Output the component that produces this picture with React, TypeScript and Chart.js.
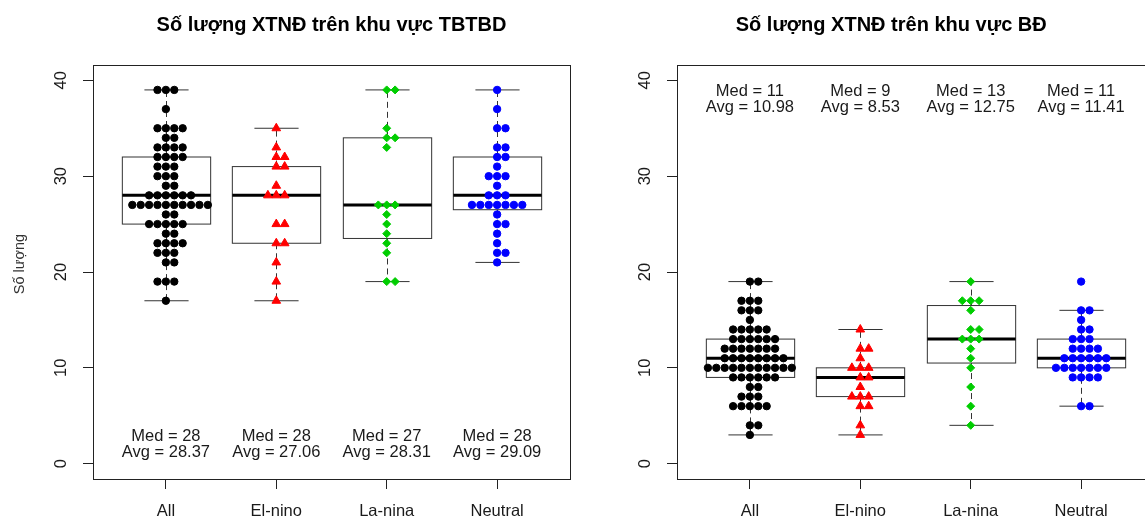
import React, { useEffect, useRef } from "react";
import { Chart, registerables } from "chart.js";

Chart.register(...registerables);

// ---------- data ----------
const categories = ["All", "El-nino", "La-nina", "Neutral"];
const yTickValues = [0, 10, 20, 30, 40];

// Panel 1: TBTBD (observations per group)
const tbtbdElnino = [35, 33, 32, 32, 31, 31, 29, 28, 28, 28, 25, 25, 23, 23, 21, 19, 17];
const tbtbdLanina = [39, 39, 35, 34, 34, 33, 27, 27, 27, 26, 25, 24, 23, 22, 19, 19];
const tbtbdNeutral = [44, 39, 37, 35, 35, 33, 33, 32, 32, 31, 30, 30, 30, 29, 28, 28, 28, 27, 27, 27, 27, 27, 27, 27, 26, 25, 25, 24, 23, 22, 22, 21];
const tbtbdAll = [...tbtbdElnino, ...tbtbdLanina, ...tbtbdNeutral];

const tbtbdWhiskerLow = [17, 17, 19, 21];
const tbtbdQ1 = [25, 23, 23.5, 26.5];
const tbtbdMedian = [28, 28, 27, 28];
const tbtbdQ3 = [32, 31, 34, 32];
const tbtbdWhiskerHigh = [39, 35, 39, 39];
const tbtbdMedText = ["Med = 28", "Med = 28", "Med = 27", "Med = 28"];
const tbtbdAvgText = ["Avg = 28.37", "Avg = 27.06", "Avg = 28.31", "Avg = 29.09"];

// Panel 2: BĐ
const bdElnino = [14, 12, 12, 11, 10, 10, 10, 9, 9, 8, 7, 7, 7, 6, 6, 4, 3];
const bdLanina = [19, 17, 17, 17, 16, 14, 14, 13, 13, 13, 12, 11, 10, 8, 6, 4];
const bdNeutral = [19, 16, 16, 15, 14, 14, 13, 13, 13, 12, 12, 12, 12, 11, 11, 11, 11, 11, 11, 10, 10, 10, 10, 10, 10, 10, 9, 9, 9, 9, 6, 6];
const bdAll = [...bdElnino, ...bdLanina, ...bdNeutral];

const bdWhiskerLow = [3, 3, 4, 6];
const bdQ1 = [9, 7, 10.5, 10];
const bdMedian = [11, 9, 13, 11];
const bdQ3 = [13, 10, 16.5, 13];
const bdWhiskerHigh = [19, 14, 19, 16];
const bdMedText = ["Med = 11", "Med = 9", "Med = 13", "Med = 11"];
const bdAvgText = ["Avg = 10.98", "Avg = 8.53", "Avg = 12.75", "Avg = 11.41"];

// ---------- styles ----------
const FONT = "'Liberation Sans', Arial, sans-serif";
const TXT = "#1a1a1a";
const LINE = "#333333";
const SWARM_DX = 0.076;

function swarm(values: number[], center: number) {
  const counts = new Map<number, number>();
  values.forEach((v) => counts.set(v, (counts.get(v) || 0) + 1));
  const pts: { x: number; y: number }[] = [];
  counts.forEach((n, v) => {
    const lo = -Math.floor((n - 1) / 2);
    for (let k = 0; k < n; k++) pts.push({ x: center + (lo + k) * SWARM_DX, y: v });
  });
  return pts;
}

const decorPlugin = {
  id: "panelDecor",
  beforeDatasetsDraw(chart: any) {
    const o = chart.options.plugins.panelDecor;
    const xs = chart.scales.x;
    const ys = chart.scales.y;
    const ctx = chart.ctx;
    const ca = chart.chartArea;
    ctx.save();
    ctx.beginPath();
    ctx.rect(ca.left, ca.top, ca.right - ca.left, ca.bottom - ca.top);
    ctx.clip();
    const hb = xs.getPixelForValue(1.4) - xs.getPixelForValue(1);
    const hs = xs.getPixelForValue(1.2) - xs.getPixelForValue(1);
    for (let i = 0; i < 4; i++) {
      const cx = Math.round(xs.getPixelForValue(i + 1)) + 0.5;
      const yLo = ys.getPixelForValue(o.low[i]);
      const yQ1 = ys.getPixelForValue(o.q1[i]);
      const yMed = ys.getPixelForValue(o.med[i]);
      const yQ3 = ys.getPixelForValue(o.q3[i]);
      const yHi = ys.getPixelForValue(o.high[i]);
      ctx.strokeStyle = LINE;
      ctx.lineWidth = 1;
      ctx.setLineDash([6, 4]);
      ctx.beginPath();
      ctx.moveTo(cx, yQ3);
      ctx.lineTo(cx, yHi);
      ctx.moveTo(cx, yQ1);
      ctx.lineTo(cx, yLo);
      ctx.stroke();
      ctx.setLineDash([]);
      ctx.beginPath();
      ctx.moveTo(cx - hs, yHi);
      ctx.lineTo(cx + hs, yHi);
      ctx.moveTo(cx - hs, yLo);
      ctx.lineTo(cx + hs, yLo);
      ctx.stroke();
      ctx.strokeRect(cx - hb, yQ3, 2 * hb, yQ1 - yQ3);
      ctx.strokeStyle = "#000";
      ctx.lineWidth = 3;
      ctx.beginPath();
      ctx.moveTo(cx - hb, yMed);
      ctx.lineTo(cx + hb, yMed);
      ctx.stroke();
    }
    ctx.restore();
  },
  afterDraw(chart: any) {
    const o = chart.options.plugins.panelDecor;
    const xs = chart.scales.x;
    const ys = chart.scales.y;
    const ctx = chart.ctx;
    const ca = chart.chartArea;
    ctx.save();
    // frame
    ctx.strokeStyle = "#222";
    ctx.lineWidth = 1;
    ctx.strokeRect(Math.round(ca.left) + 0.5, Math.round(ca.top) + 0.5, Math.round(ca.right - ca.left), Math.round(ca.bottom - ca.top));
    // y tick labels (rotated, R style)
    ctx.fillStyle = TXT;
    ctx.font = `16.5px ${FONT}`;
    ctx.textAlign = "center";
    ctx.textBaseline = "middle";
    ys.ticks.forEach((t: any) => {
      ctx.save();
      ctx.translate(ca.left - 32, ys.getPixelForValue(t.value));
      ctx.rotate(-Math.PI / 2);
      ctx.fillText(String(t.value), 0, 0);
      ctx.restore();
    });
    // y axis title
    if (o.ylabel) {
      ctx.save();
      ctx.font = `14.5px ${FONT}`;
      ctx.fillStyle = "#333";
      ctx.translate(20, (ca.top + ca.bottom) / 2 - 8);
      ctx.rotate(-Math.PI / 2);
      ctx.fillText(o.ylabel, 0, 0);
      ctx.restore();
    }
    // med / avg annotations
    ctx.font = `16.5px ${FONT}`;
    ctx.fillStyle = TXT;
    for (let i = 0; i < 4; i++) {
      const cx = xs.getPixelForValue(i + 1);
      const py = ys.getPixelForValue(o.textY);
      ctx.fillText(o.medText[i], cx, py - 8.3);
      ctx.fillText(o.avgText[i], cx, py + 8.3);
    }
    // title
    ctx.font = `bold 20px ${FONT}`;
    ctx.fillStyle = "#000";
    ctx.fillText(o.title, xs.getPixelForValue(o.titleX), 25);
    ctx.restore();
  },
};

function makeConfig(
  groups: number[][],
  stats: { low: number[]; q1: number[]; med: number[]; q3: number[]; high: number[] },
  medText: string[],
  avgText: string[],
  textY: number,
  title: string,
  titleX: number,
  ylabel: string
): any {
  const styles = [
    { pointStyle: "circle", color: "#000000", radius: 3.7 },
    { pointStyle: "triangle", color: "#FF0000", radius: 5 },
    { pointStyle: "rectRot", color: "#00CD00", radius: 4 },
    { pointStyle: "circle", color: "#0000FF", radius: 3.7 },
  ];
  return {
    type: "scatter",
    data: {
      datasets: groups.map((g, i) => ({
        label: categories[i],
        data: swarm(g, i + 1),
        pointStyle: styles[i].pointStyle,
        pointRadius: styles[i].radius,
        backgroundColor: styles[i].color,
        borderColor: styles[i].color,
        borderWidth: 1,
      })),
    },
    options: {
      animation: false,
      responsive: false,
      maintainAspectRatio: false,
      devicePixelRatio: 1,
      layout: { padding: { left: 0, right: 10, top: 65, bottom: 0 } },
      plugins: {
        legend: { display: false },
        tooltip: { enabled: false },
        title: { display: false },
        panelDecor: { ...stats, medText, avgText, textY, title, titleX, ylabel },
      },
      scales: {
        x: {
          type: "linear",
          min: 0.34,
          max: 4.66,
          afterBuildTicks: (s: any) => {
            s.ticks = [1, 2, 3, 4].map((v) => ({ value: v }));
          },
          afterFit: (s: any) => {
            s.height = 41;
          },
          ticks: {
            callback: (v: number) => categories[v - 1],
            font: { size: 16.5, family: FONT },
            color: TXT,
            padding: 13,
            autoSkip: false,
            maxRotation: 0,
            minRotation: 0,
          },
          grid: { drawOnChartArea: false, drawTicks: true, tickLength: 10, color: "#222" },
          border: { display: false },
        },
        y: {
          type: "linear",
          min: -1.6,
          max: 41.6,
          afterBuildTicks: (s: any) => {
            s.ticks = yTickValues.map((v) => ({ value: v }));
          },
          afterFit: (s: any) => {
            s.width = 93;
          },
          ticks: { display: false },
          grid: { drawOnChartArea: false, drawTicks: true, tickLength: 10, color: "#222" },
          border: { display: false },
        },
      },
    },
    plugins: [decorPlugin],
  };
}

export default function App() {
  const leftRef = useRef<HTMLCanvasElement | null>(null);
  const rightRef = useRef<HTMLCanvasElement | null>(null);

  useEffect(() => {
    const left = new Chart(
      leftRef.current as HTMLCanvasElement,
      makeConfig(
        [tbtbdAll, tbtbdElnino, tbtbdLanina, tbtbdNeutral],
        { low: tbtbdWhiskerLow, q1: tbtbdQ1, med: tbtbdMedian, q3: tbtbdQ3, high: tbtbdWhiskerHigh },
        tbtbdMedText,
        tbtbdAvgText,
        2,
        "Số lượng XTNĐ trên khu vực TBTBD",
        2.5,
        "Số lượng"
      )
    );
    const right = new Chart(
      rightRef.current as HTMLCanvasElement,
      makeConfig(
        [bdAll, bdElnino, bdLanina, bdNeutral],
        { low: bdWhiskerLow, q1: bdQ1, med: bdMedian, q3: bdQ3, high: bdWhiskerHigh },
        bdMedText,
        bdAvgText,
        38,
        "Số lượng XTNĐ trên khu vực BĐ",
        2.28,
        ""
      )
    );
    return () => {
      left.destroy();
      right.destroy();
    };
  }, []);

  return (
    <div style={{ position: "fixed", left: 0, top: 0, width: 1145, height: 520, overflow: "hidden", background: "#fff" }}>
      <canvas ref={leftRef} width={580} height={520} style={{ position: "absolute", left: 0, top: 0, width: 580, height: 520 }} />
      <canvas ref={rightRef} width={580} height={520} style={{ position: "absolute", left: 584, top: 0, width: 580, height: 520 }} />
    </div>
  );
}
